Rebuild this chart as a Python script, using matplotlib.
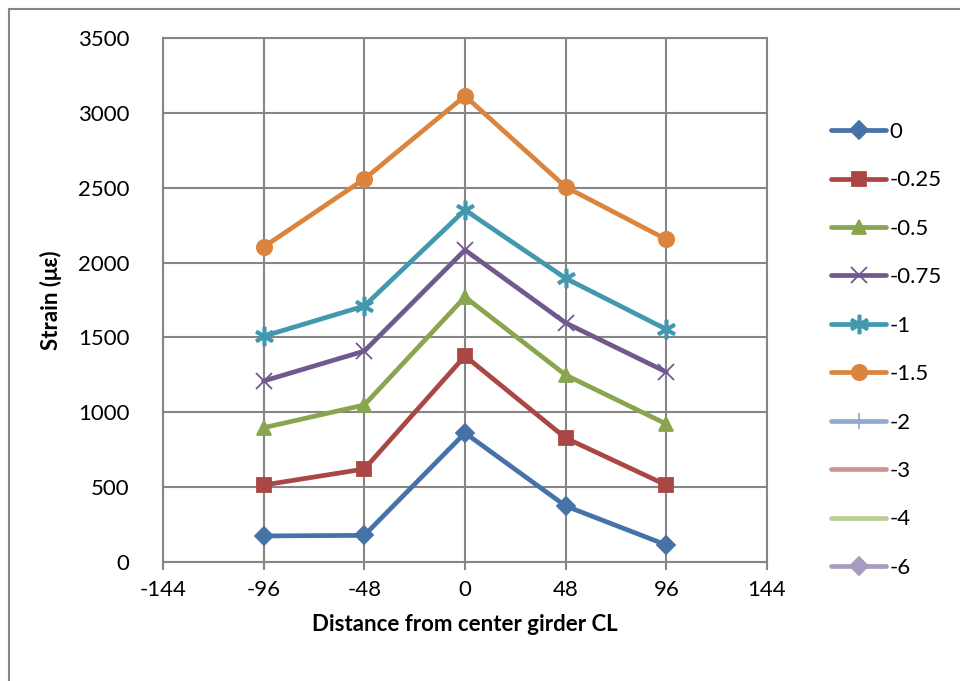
import matplotlib.pyplot as plt
from matplotlib.patches import Rectangle
from matplotlib.lines import Line2D

plt.rcParams['font.family'] = ['Lato', 'DejaVu Sans']
plt.rcParams['axes.unicode_minus'] = False

# distance from center girder CL
x_pos = [-96, -48, 0, 48, 96]

s_0 = [174, 178, 862, 374, 114]
s_025 = [514, 621, 1376, 828, 514]
s_05 = [897, 1049, 1770, 1249, 922]
s_075 = [1209, 1409, 2084, 1597, 1269]
s_1 = [1508, 1710, 2351, 1895, 1554]
s_15 = [2104, 2558, 3113, 2505, 2155]

labels = ['0', '-0.25', '-0.5', '-0.75', '-1', '-1.5', '-2', '-3', '-4', '-6']
colors = ['#4572A7', '#AA4643', '#89A54E', '#71588F', '#4198AF', '#DB843D',
          '#93A9CF', '#D19392', '#B9CD96', '#A99BBD']
markers = ['D', 's', '^', 'x', '$\u2217$', 'o', '|', '', '', 'D']
msizes = [9, 10, 10, 11, 13, 11, 11, 0, 0, 9]

series = [s_0, s_025, s_05, s_075, s_1, s_15]

fs = 16

fig = plt.figure(figsize=(9.6, 6.81), dpi=100)
ax = fig.add_axes([163 / 960, 1 - 562 / 681, (767 - 163) / 960, (562 - 38) / 681])

for i, ys in enumerate(series):
    ax.plot(x_pos, ys, color=colors[i], lw=3.4, marker=markers[i], ms=msizes[i],
            mew=1.3, mec=colors[i], mfc=colors[i], solid_capstyle='round', zorder=3)

ax.set_xlim(-144, 144)
ax.set_ylim(0, 3500)
ax.set_xticks(range(-144, 145, 48))
ax.set_yticks(range(0, 3501, 500))
ax.grid(True, color='#868686', lw=1.5)
ax.set_axisbelow(True)
for sp in ax.spines.values():
    sp.set_color('#868686')
    sp.set_linewidth(1.5)
ax.tick_params(axis='both', labelsize=fs, colors='#868686', labelcolor='black')
ax.tick_params(axis='x', length=6, width=1.5, pad=7)
ax.tick_params(axis='y', length=0, pad=24)

ax.set_xlabel('Distance from center girder CL', fontsize=fs, fontweight='bold', labelpad=10)
ax.set_ylabel('Strain (\u03bc\u03b5)', fontsize=fs, fontweight='bold', labelpad=12)

handles = []
for i, lab in enumerate(labels):
    handles.append(Line2D([], [], color=colors[i], lw=3.4, marker=markers[i] or None,
                          ms=msizes[i], mew=1.3, mec=colors[i], mfc=colors[i],
                          solid_capstyle='round'))
fig.legend(handles, labels, loc='upper left', bbox_to_anchor=(822 / 960, 1 - 113 / 681),
           frameon=False, fontsize=fs, handlelength=2.5, handletextpad=0.15,
           labelspacing=1.28, borderaxespad=0)

fig.patches.append(Rectangle((9 / 960, -0.01), 1.0, 1 - 9 / 681 + 0.01,
                             transform=fig.transFigure, fill=False,
                             edgecolor='#868686', lw=1.5))

fig.savefig('out.png', dpi=100)
